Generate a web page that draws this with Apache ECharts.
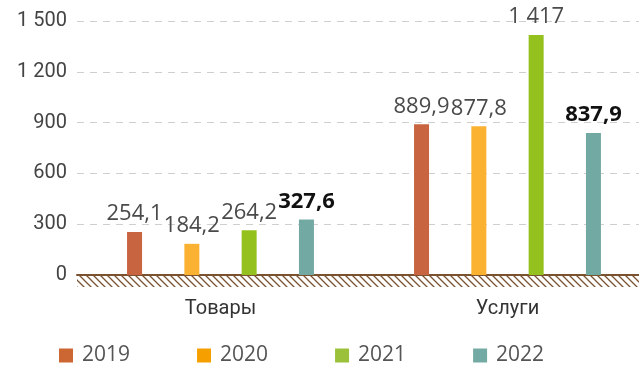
<!DOCTYPE html>
<html>
<head>
<meta charset="utf-8">
<style>
  html, body { margin: 0; padding: 0; background: #fff; }
  #chart { width: 639px; height: 367px; }
</style>
<script src="https://cdn.jsdelivr.net/npm/echarts@6/dist/echarts.min.js"></script>
</head>
<body>
<div id="chart"></div>
<script>
// Categories and yearly values
const categories = ['Товары', 'Услуги'];
const years = ['2019', '2020', '2021', '2022'];
const values2019 = [254.1, 889.9];
const values2020 = [184.2, 877.8];
const values2021 = [264.2, 1417];
const values2022 = [327.6, 837.9];
const yTicks = { min: 0, max: 1500, interval: 300 };

const barColors = ['#C8643F', '#FBB232', '#95C11F', '#72A9A2'];
const legendColors = ['#CC6633', '#F5A000', '#9BC03A', '#74AAA4'];
const seriesValues = [values2019, values2020, values2021, values2022];

function fmt(v) {
  const parts = String(v).split('.');
  const intPart = parts[0].replace(/\B(?=(\d{3})+(?!\d))/g, ' ');
  return parts.length > 1 ? intPart + ',' + parts[1] : intPart;
}

const chart = echarts.init(document.getElementById('chart'), null, { renderer: 'canvas' });

const series = years.map((y, i) => ({
  name: y,
  type: 'bar',
  data: seriesValues[i],
  barWidth: 15,
  barGap: '282%',
  itemStyle: { color: barColors[i] },
  label: {
    show: true,
    position: 'top',
    distance: 7,
    formatter: p => fmt(p.value),
    fontFamily: 'Open Sans',
    fontSize: 22,
    fontWeight: i === 3 ? 'bold' : 'normal',
    color: i === 3 ? '#111' : '#4a4a4a'
  }
}));

chart.setOption({
  animation: false,
  // the plot runs a little past the right edge of the canvas
  grid: { left: 77, top: 21, bottom: 92, width: 574, containLabel: false, outerBoundsMode: 'none' },
  legend: {
    bottom: 1,
    left: 59,
    padding: 0,
    itemWidth: 14,
    itemHeight: 14,
    itemGap: 67,
    icon: 'rect',
    textStyle: { fontFamily: 'Open Sans', fontSize: 21, color: '#555', padding: [0, 0, 0, 4] },
    data: years.map((y, i) => ({ name: y, itemStyle: { color: legendColors[i] } }))
  },
  xAxis: {
    type: 'category',
    data: categories,
    axisLine: { show: true, lineStyle: { color: '#7B5230', width: 2 } },
    axisTick: { show: false },
    axisLabel: { fontFamily: 'Roboto', fontSize: 20, color: '#333', margin: 24 }
  },
  yAxis: {
    type: 'value',
    min: yTicks.min,
    max: yTicks.max,
    interval: yTicks.interval,
    axisLine: { show: false },
    axisTick: { show: false },
    axisLabel: {
      fontFamily: 'Roboto', fontSize: 20, color: '#444', margin: 10,
      formatter: v => fmt(v)
    },
    splitLine: { lineStyle: { color: '#cfcfcf', type: [7, 6], width: 1 } }
  },
  series
});

// Hatched ground strip under the zero line
const pat = document.createElement('canvas');
pat.width = 7; pat.height = 7;
const ctx = pat.getContext('2d');
ctx.strokeStyle = '#7B5230';
ctx.lineWidth = 1.3;
ctx.beginPath();
ctx.moveTo(-1, -1); ctx.lineTo(8, 8);
ctx.moveTo(-8, -1); ctx.lineTo(1, 8);
ctx.moveTo(6, -1); ctx.lineTo(15, 8);
ctx.stroke();

const zeroY = chart.convertToPixel({ yAxisIndex: 0 }, 0);
const gridRect = chart.getModel().getComponent('grid').coordinateSystem.getRect();
chart.setOption({
  graphic: [{
    type: 'rect',
    z: -1,
    shape: { x: gridRect.x, y: zeroY + 1, width: chart.getWidth() - gridRect.x, height: 11 },
    style: { fill: { image: pat, repeat: 'repeat' } }
  }]
});
</script>
</body>
</html>
